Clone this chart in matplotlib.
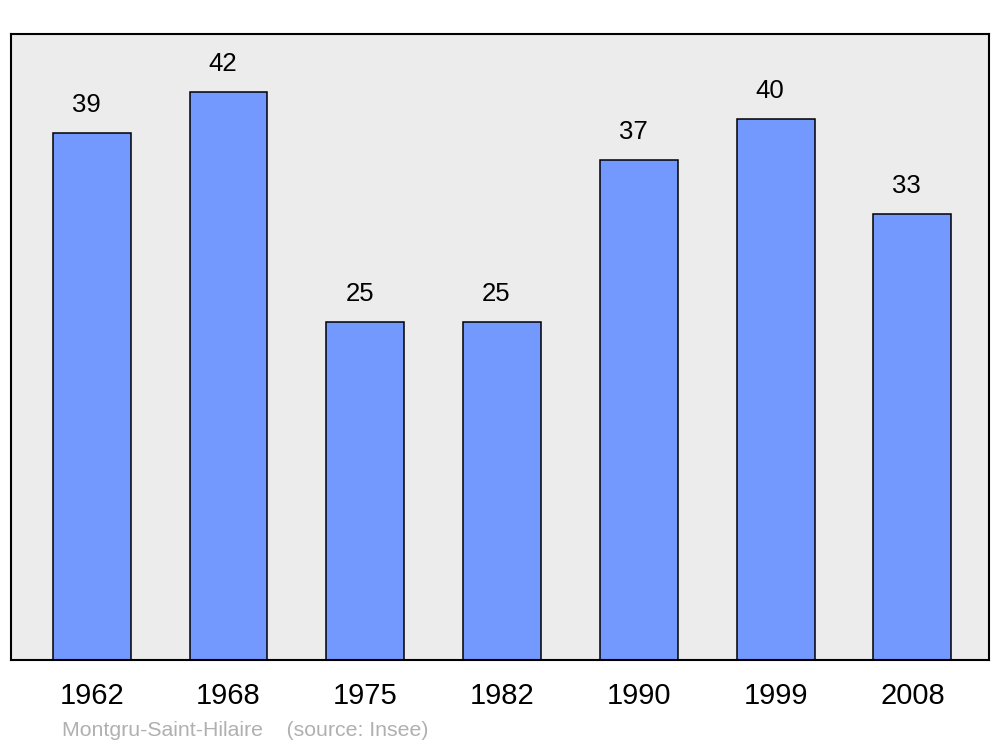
import matplotlib
matplotlib.use('Agg')
import matplotlib.pyplot as plt

plt.rcParams['font.family'] = ['Liberation Sans', 'DejaVu Sans']

years = ['1962', '1968', '1975', '1982', '1990', '1999', '2008']
population = [39, 42, 25, 25, 37, 40, 33]

fig = plt.figure(figsize=(10, 7.47), dpi=100)
ax = fig.add_axes([0.011, 87 / 747, 0.978, 626 / 747])
ax.set_facecolor('#ececec')

x = list(range(len(years)))
ax.bar(x, population, width=0.57, color='#7399ff', edgecolor='black', linewidth=1.1, zorder=2)

for xi, v in zip(x, population):
    ax.annotate(str(v), (xi, v), xytext=(-4, 20), textcoords='offset points',
                ha='center', va='center', fontsize=18.5)

ax.set_xlim(-0.59, 6.56)
ax.set_ylim(0, 46.3)
ax.set_yticks([])
ax.set_xticks(x)
ax.set_xticklabels(years, fontsize=21)
ax.tick_params(axis='x', length=0, pad=15.5)
for s in ax.spines.values():
    s.set_linewidth(1.5)

fig.text(0.062, 1 - 731 / 747, 'Montgru-Saint-Hilaire    (source: Insee)',
         color='#b0b0b0', fontsize=15.3, va='center', ha='left')

fig.savefig('out.png', dpi=100, facecolor='white')
